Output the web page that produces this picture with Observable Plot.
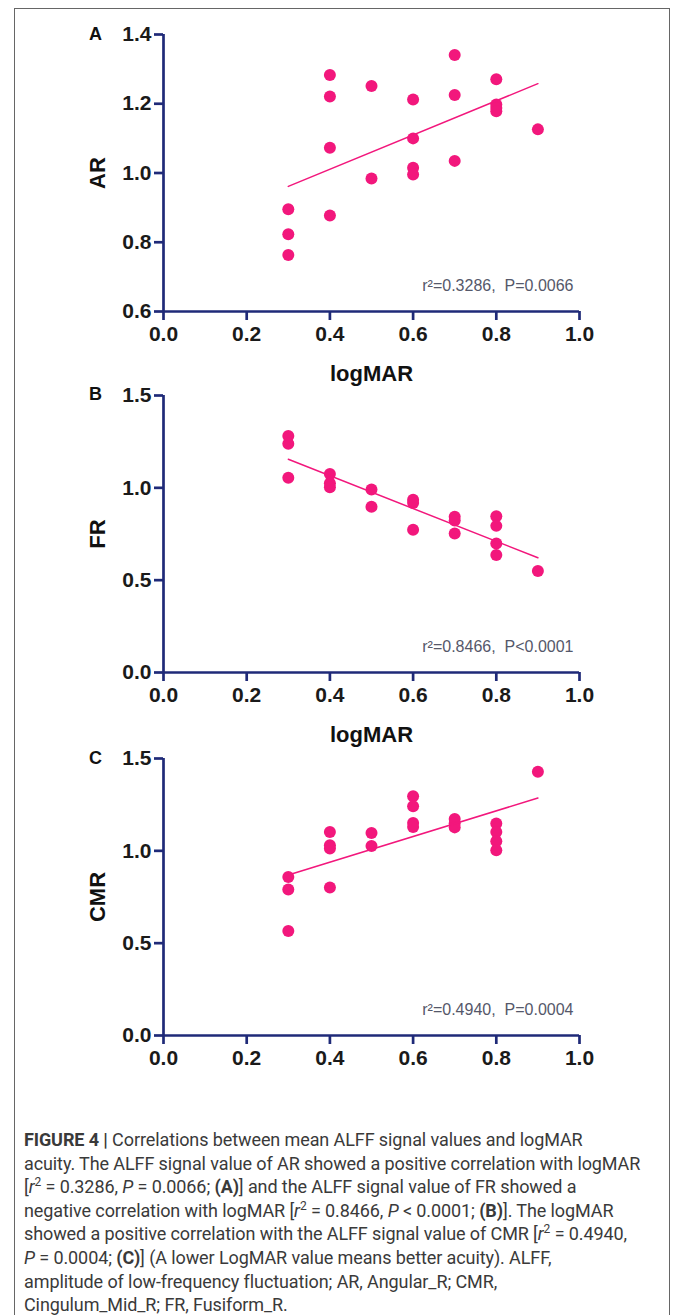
<!DOCTYPE html>
<html>
<head>
<meta charset="utf-8">
<script src="https://cdn.jsdelivr.net/npm/d3@7"></script>
<script src="https://cdn.jsdelivr.net/npm/@observablehq/plot@0.6"></script>
<style>
  html, body { margin: 0; padding: 0; background: #fff; }
  body { width: 673px; height: 1315px; position: relative; overflow: hidden; }
  #frame { position: absolute; left: 14px; top: 8px; width: 656px; height: 1400px; border: 1px solid #666; box-sizing: border-box; }
  .panel { position: absolute; left: 0; }
  .letter { position: absolute; font-family: "Liberation Sans", Arial, sans-serif; font-weight: bold; font-size: 18px; color: #111; }
  #caption { position: absolute; left: 24px; top: 1128px; font-family: Roboto, "Liberation Sans", sans-serif; font-size: 18px; line-height: 23.6px; color: #3a3a3a; white-space: nowrap; letter-spacing: -0.1px; }
  #caption sup { font-size: 12px; line-height: 0; }
</style>
</head>
<body>
<div id="frame"></div>
<div id="pA" class="panel" style="top:0px"></div>
<div id="pB" class="panel" style="top:361px"></div>
<div id="pC" class="panel" style="top:724px"></div>
<div class="letter" style="left:89px; top:24px">A</div>
<div class="letter" style="left:89px; top:384px">B</div>
<div class="letter" style="left:89px; top:748px">C</div>
<div id="caption">
<b>FIGURE 4 |</b> Correlations between mean ALFF signal values and logMAR<br>
acuity. The ALFF signal value of AR showed a positive correlation with logMAR<br>
[<i>r</i><sup>2</sup> = 0.3286, <i>P</i> = 0.0066; <b>(A)</b>] and the ALFF signal value of FR showed a<br>
negative correlation with logMAR [<i>r</i><sup>2</sup> = 0.8466, <i>P</i> &lt; 0.0001; <b>(B)</b>]. The logMAR<br>
showed a positive correlation with the ALFF signal value of CMR [<i>r</i><sup>2</sup> = 0.4940,<br>
<i>P</i> = 0.0004; <b>(C)</b>] (A lower LogMAR value means better acuity). ALFF,<br>
amplitude of low-frequency fluctuation; AR, Angular_R; CMR,<br>
Cingulum_Mid_R; FR, Fusiform_R.
</div>
<script>
// ---- data ----
const xTicks = [0, 0.2, 0.4, 0.6, 0.8, 1.0];

const logmarA = [0.3,0.3,0.3, 0.4,0.4,0.4,0.4, 0.5,0.5, 0.6,0.6,0.6,0.6, 0.7,0.7,0.7, 0.8,0.8,0.8,0.8, 0.9];
const arValues = [0.895,0.823,0.763, 1.283,1.221,1.073,0.877, 1.251,0.984, 1.212,1.100,1.015,0.996, 1.341,1.225,1.035, 1.271,1.198,1.188,1.178, 1.126];
const arTicks = [0.6, 0.8, 1.0, 1.2, 1.4];
const arAnnot = "r²=0.3286,  P=0.0066";

const logmarB = [0.3,0.3,0.3, 0.4,0.4,0.4, 0.5,0.5, 0.6,0.6,0.6, 0.7,0.7,0.7, 0.8,0.8,0.8,0.8, 0.9];
const frValues = [1.281,1.239,1.055, 1.075,1.025,1.003, 0.991,0.897, 0.935,0.918,0.773, 0.843,0.823,0.753, 0.846,0.794,0.699,0.636, 0.550];
const frTicks = [0, 0.5, 1.0, 1.5];
const frAnnot = "r²=0.8466,  P<0.0001";

const logmarC = [0.3,0.3,0.3, 0.4,0.4,0.4,0.4, 0.5,0.5, 0.6,0.6,0.6,0.6, 0.7,0.7,0.7, 0.8,0.8,0.8,0.8, 0.9];
const cmrValues = [0.858,0.790,0.566, 1.102,1.030,1.012,0.801, 1.097,1.026, 1.296,1.241,1.151,1.129, 1.172,1.150,1.127, 1.148,1.102,1.052,1.003, 1.428];
const cmrTicks = [0, 0.5, 1.0, 1.5];
const cmrAnnot = "r²=0.4940,  P=0.0004";

// ---- styles ----
const navy = "#1f2a78";
const pink = "#f2177c";
const annotColor = "#55586a";
const font = "'Liberation Sans', Arial, sans-serif";

function panel(xs, ys, yTicks, yLabel, annot, xLabel) {
  const data = xs.map((x, i) => ({x, y: ys[i]}));
  const yDomain = [yTicks[0], yTicks[yTicks.length - 1]];
  const marks = [
    Plot.axisX({ticks: xTicks, tickFormat: d => d.toFixed(1), tickSize: 9, tickPadding: 6, stroke: navy, strokeWidth: 2.7, fill: "#1a1a1a",
      fontSize: 21, fontWeight: "bold", label: null}),
    Plot.axisY({ticks: yTicks, tickFormat: d => d.toFixed(1), tickSize: 9, tickPadding: 3, stroke: navy, strokeWidth: 2.7, fill: "#1a1a1a",
      fontSize: 21, fontWeight: "bold", label: null}),
    Plot.ruleX([0], {stroke: navy, strokeWidth: 2.7}),
    Plot.ruleY([yDomain[0]], {stroke: navy, strokeWidth: 2.7}),
    Plot.dot(data, {x: "x", y: "y", r: 6, fill: pink}),
    Plot.linearRegressionY(data, {x: "x", y: "y", stroke: pink, strokeWidth: 1.5, ci: 0}),
    Plot.text([annot], {frameAnchor: "bottom-right", dx: -6, dy: -21, fill: annotColor, fontSize: 16, fontWeight: "normal", textAnchor: "end", lineAnchor: "bottom"}),
    Plot.text([yLabel], {frameAnchor: "left", dx: -66, rotate: -90, fontSize: 22, fontWeight: "bold", fill: "#111", textAnchor: "middle", lineAnchor: "middle"})
  ];
  if (xLabel) marks.push(Plot.text([xLabel], {frameAnchor: "bottom", dy: 62, fontSize: 22, fontWeight: "bold", fill: "#111", textAnchor: "middle", lineAnchor: "middle"}));
  return Plot.plot({
    width: 673, height: 391,
    marginLeft: 163, marginRight: 94, marginTop: 34, marginBottom: 80,
    style: {fontFamily: font, background: "transparent", overflow: "visible"},
    x: {domain: [0, 1]},
    y: {domain: yDomain},
    marks
  });
}

document.getElementById("pA").append(panel(logmarA, arValues, arTicks, "AR", arAnnot, "logMAR"));
document.getElementById("pB").append(panel(logmarB, frValues, frTicks, "FR", frAnnot, "logMAR"));
document.getElementById("pC").append(panel(logmarC, cmrValues, cmrTicks, "CMR", cmrAnnot, null));
</script>
</body>
</html>
